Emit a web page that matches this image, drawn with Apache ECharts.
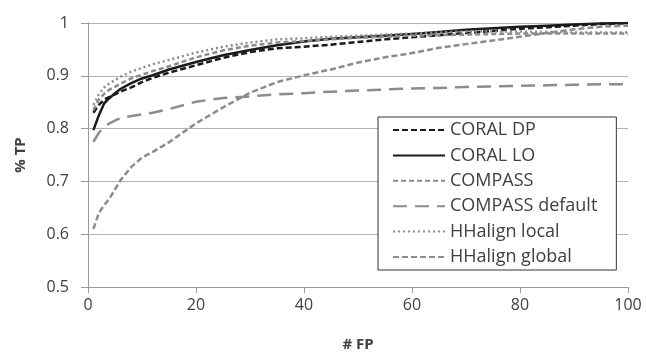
<!DOCTYPE html>
<html><head><meta charset="utf-8">
<script src="https://cdn.jsdelivr.net/npm/echarts@6/dist/echarts.min.js"></script>
<style>html,body{margin:0;padding:0;background:#fff}#c{width:646px;height:358px}</style>
</head><body><div id="c"></div>
<script>
const fp = [1,2,3,4,5,6,8,10,12,15,20,25,30,35,40,45,50,55,60,65,70,75,80,85,90,95,100];
const coralDP = [0.83,0.845,0.855,0.86,0.865,0.87,0.878,0.888,0.896,0.906,0.92,0.934,0.945,0.952,0.955,0.959,0.964,0.969,0.973,0.977,0.981,0.985,0.989,0.992,0.995,0.998,1.0];
const coralLO = [0.797,0.825,0.848,0.858,0.867,0.875,0.886,0.895,0.901,0.912,0.926,0.939,0.949,0.958,0.965,0.97,0.973,0.976,0.979,0.983,0.987,0.99,0.993,0.995,0.997,0.999,1.0];
const compass = [0.835,0.855,0.866,0.874,0.879,0.885,0.895,0.902,0.909,0.918,0.935,0.948,0.957,0.963,0.966,0.969,0.972,0.974,0.976,0.977,0.978,0.979,0.98,0.98,0.98,0.98,0.98];
const compassDefault = [0.775,0.792,0.803,0.81,0.815,0.82,0.824,0.827,0.83,0.837,0.851,0.858,0.861,0.865,0.867,0.87,0.872,0.874,0.876,0.877,0.879,0.88,0.881,0.882,0.883,0.884,0.884];
const hhLocal = [0.845,0.865,0.878,0.886,0.892,0.898,0.908,0.915,0.922,0.93,0.944,0.955,0.963,0.969,0.971,0.974,0.976,0.978,0.98,0.982,0.984,0.984,0.984,0.983,0.982,0.982,0.982];
const hhGlobal = [0.61,0.64,0.655,0.668,0.685,0.702,0.727,0.745,0.756,0.774,0.81,0.84,0.868,0.888,0.901,0.912,0.925,0.935,0.943,0.953,0.96,0.967,0.974,0.981,0.988,0.993,0.995];
const names = ['CORAL DP','CORAL LO','COMPASS','COMPASS default','HHalign local','HHalign global'];

const txt = '#404040';
const font = "'Open Sans', 'Liberation Sans', sans-serif";
function pairs(v){ return fp.map((x,i)=>[x,v[i]]); }
function mk(name, vals, color, type){
  return {name, type:'line', data:pairs(vals), showSymbol:false, symbol:'none', smooth:false, animation:false,
    lineStyle:{color, width:2.5, type}, itemStyle:{color}, z:2};
}
const chart = echarts.init(document.getElementById('c'), null, {renderer:'canvas'});
chart.setOption({
  animation:false,
  textStyle:{fontFamily:font, color:txt},
  grid:{left:88, right:18, top:23, bottom:71},
  xAxis:{type:'value', min:0, max:100, interval:20,
    name:'# FP', nameLocation:'middle', nameGap:50,
    nameTextStyle:{fontFamily:font, fontSize:15, fontWeight:'bold', color:txt},
    axisLine:{show:true, lineStyle:{color:'#999'}},
    axisTick:{show:true, length:6, lineStyle:{color:'#999'}},
    axisLabel:{fontSize:16, color:txt, margin:10, fontFamily:font},
    splitLine:{show:false}},
  yAxis:{type:'value', min:0.5, max:1, interval:0.1,
    name:'% TP', nameLocation:'middle', nameGap:60, nameRotate:90,
    nameTextStyle:{fontFamily:font, fontSize:15, fontWeight:'bold', color:txt},
    axisLine:{show:true, lineStyle:{color:'#999'}},
    axisTick:{show:true, length:7, lineStyle:{color:'#999'}},
    axisLabel:{fontSize:16, color:txt, margin:19, fontFamily:font},
    splitLine:{show:true, lineStyle:{color:'#b4b4b4', width:1}}},
  legend:{orient:'vertical', left:378, top:117, padding:[4,19,4,14], itemGap:7.4,
    itemWidth:52, itemHeight:14, data:names,
    itemStyle:{opacity:0},
    backgroundColor:'#fff', borderColor:'#333', borderWidth:1,
    textStyle:{fontFamily:font, fontSize:18, color:txt}},
  series:[
    mk(names[0], coralDP, '#1a1a1a', [6,3]),
    mk(names[1], coralLO, '#1a1a1a', 'solid'),
    mk(names[2], compass, '#8c8c8c', [5,3]),
    mk(names[3], compassDefault, '#8c8c8c', [14,8]),
    mk(names[4], hhLocal, '#8c8c8c', [2,3]),
    mk(names[5], hhGlobal, '#8c8c8c', [6,3])
  ]
});
</script></body></html>
